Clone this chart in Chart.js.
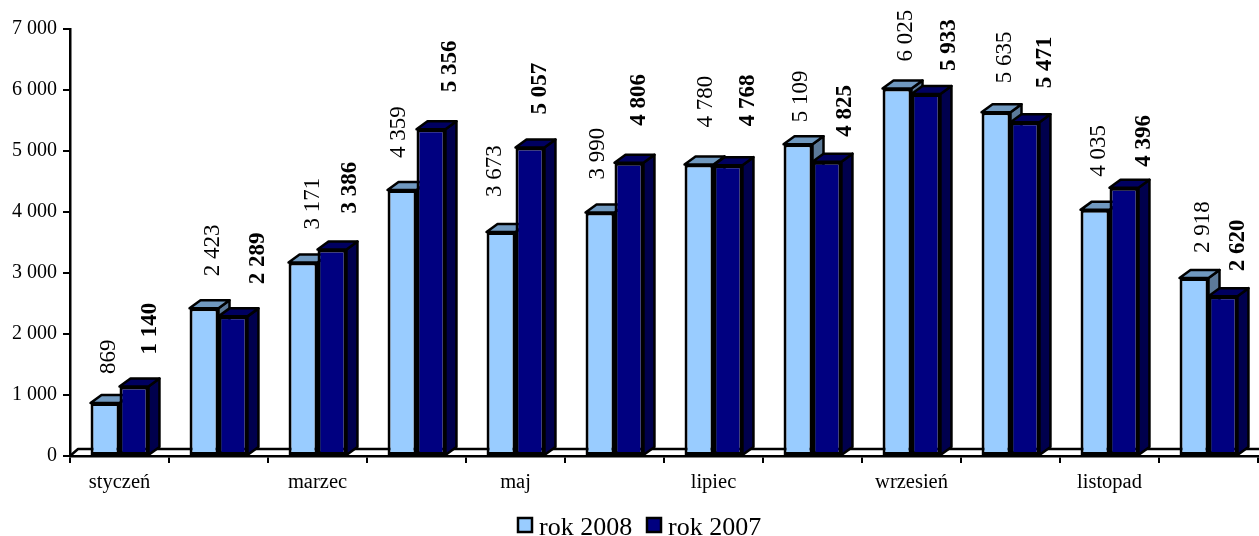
<!DOCTYPE html>
<html>
<head>
<meta charset="utf-8">
<script src="https://cdn.jsdelivr.net/npm/chart.js@4/dist/chart.umd.min.js"></script>
<style>
  html, body { margin: 0; padding: 0; background: #fff; }
  #wrap { width: 1259px; height: 536px; }
</style>
</head>
<body>
<div id="wrap"><canvas id="salesChart"></canvas></div>
<script>
// Values
const months = ['styczeń', 'luty', 'marzec', 'kwiecień', 'maj', 'czerwiec', 'lipiec', 'sierpień', 'wrzesień', 'październik', 'listopad', 'grudzień'];
const values2008 = [869, 2423, 3171, 4359, 3673, 3990, 4780, 5109, 6025, 5635, 4035, 2918];
const values2007 = [1140, 2289, 3386, 5356, 5057, 4806, 4768, 4825, 5933, 5471, 4396, 2620];

const serif = '"Liberation Serif", "Times New Roman", serif';
const depthX = 11;
const depthY = 8;

// The value labels were placed by hand in the original: nudge from each bar's top centre
const labelNudge = [
    { dx: [3, 8, 9, -4, -7, -3, 6, 2, 8, 8, 3, 8], gap: [29, 32, 33, 32, 35, 33, 37, 22, 27, 29, 33, 25] },
    { dx: [15, 24, 17, 18, 9, 9, 19, 17, 22, 19, 19, 14], gap: [32, 32, 36, 37, 33, 37, 39, 25, 23, 34, 21, 25] }
];

function fmt(v) {
    return String(v).replace(/\B(?=(\d{3})+$)/g, ' ');
}

function poly(ctx, pts, fill) {
    ctx.beginPath();
    pts.forEach((p, i) => i ? ctx.lineTo(p[0], p[1]) : ctx.moveTo(p[0], p[1]));
    ctx.closePath();
    ctx.fillStyle = fill;
    ctx.fill();
    ctx.stroke();
}

// Floor line, side/top faces of the bars, rotated value labels and the legend
const fake3d = {
    id: 'fake3d',
    beforeDatasetsDraw(chart) {
        const ctx = chart.ctx;
        const a = chart.chartArea;
        ctx.save();
        ctx.strokeStyle = '#000';
        ctx.lineWidth = 2.5;
        ctx.lineJoin = 'round';
        ctx.beginPath();
        ctx.moveTo(a.left, a.bottom);
        ctx.lineTo(a.left + depthX - 3, a.bottom - depthY + 1);
        ctx.lineTo(a.right + 2, a.bottom - depthY + 1);
        ctx.stroke();
        chart.data.datasets.forEach((ds, di) => {
            chart.getDatasetMeta(di).data.forEach(bar => {
                const l = bar.x - bar.width / 2;
                const r = bar.x + bar.width / 2;
                poly(ctx, [[r, bar.y], [r + depthX, bar.y - depthY], [r + depthX, bar.base - depthY], [r, bar.base]], ds.sideColor);
                poly(ctx, [[l, bar.y], [l + depthX, bar.y - depthY], [r + depthX, bar.y - depthY], [r, bar.y]], ds.topColor);
            });
        });
        ctx.restore();
    },
    afterDatasetsDraw(chart) {
        const ctx = chart.ctx;
        ctx.save();
        ctx.fillStyle = '#000';
        ctx.textAlign = 'left';
        ctx.textBaseline = 'middle';
        chart.data.datasets.forEach((ds, di) => {
            chart.getDatasetMeta(di).data.forEach((bar, i) => {
                ctx.font = (di === 1 ? 'bold ' : '') + '23px ' + serif;
                ctx.save();
                ctx.translate(bar.x + labelNudge[di].dx[i] + 1, bar.y - labelNudge[di].gap[i]);
                ctx.rotate(-Math.PI / 2);
                ctx.fillText(fmt(ds.data[i]), 0, 0);
                ctx.restore();
            });
        });
        ctx.restore();
    },
    afterDraw(chart) {
        const ctx = chart.ctx;
        ctx.save();
        ctx.lineWidth = 2.5;
        ctx.strokeStyle = '#000';
        ctx.textAlign = 'left';
        ctx.textBaseline = 'alphabetic';
        ctx.font = '26px ' + serif;
        chart.data.datasets.forEach((ds, di) => {
            const x = di === 0 ? 518 : 647;
            ctx.fillStyle = ds.backgroundColor;
            ctx.fillRect(x, 518, 14, 14);
            ctx.strokeRect(x, 518, 14, 14);
            ctx.fillStyle = '#000';
            ctx.fillText(ds.label, x + 21, 535);
        });
        ctx.restore();
    }
};

const data = {
    labels: months,
    datasets: [{
        label: 'rok 2008',
        data: values2008,
        backgroundColor: '#99CCFF',
        topColor: '#7099C0',
        sideColor: '#5C7A99',
        borderColor: '#000',
        borderWidth: 3,
        borderSkipped: false
    }, {
        label: 'rok 2007',
        data: values2007,
        backgroundColor: '#000080',
        topColor: '#000060',
        sideColor: '#00004D',
        borderColor: '#000',
        borderWidth: 3,
        borderSkipped: false
    }]
};

const config = {
    type: 'bar',
    data: data,
    plugins: [fake3d],
    options: {
        responsive: true,
        maintainAspectRatio: false,
        animation: false,
        layout: { padding: { top: 29, right: 1, bottom: 0, left: 0 } },
        datasets: { bar: { categoryPercentage: 0.585, barPercentage: 1 } },
        scales: {
            x: {
                offset: true,
                grid: { offset: true, drawOnChartArea: false, color: '#000', lineWidth: 2, tickLength: 7 },
                border: { color: '#000', width: 2.5 },
                afterFit(scale) { scale.height = 80; },
                ticks: {
                    autoSkip: false,
                    maxRotation: 0,
                    color: '#000',
                    padding: 7,
                    font: { family: serif, size: 20.5 },
                    callback(value, index) {
                        return index % 2 === 0 ? this.getLabelForValue(value) : '';
                    }
                }
            },
            y: {
                min: 0,
                max: 7000,
                grid: { drawOnChartArea: false, color: '#000', lineWidth: 2, tickLength: 7 },
                border: { color: '#000', width: 2.5 },
                afterFit(scale) { scale.width = 70; },
                ticks: {
                    stepSize: 1000,
                    color: '#000',
                    padding: 6,
                    font: { family: serif, size: 20 },
                    callback: v => fmt(v)
                }
            }
        },
        plugins: {
            tooltip: { enabled: false },
            legend: { display: false }
        }
    }
};

const salesChart = new Chart(document.getElementById('salesChart'), config);
</script>
</body>
</html>
